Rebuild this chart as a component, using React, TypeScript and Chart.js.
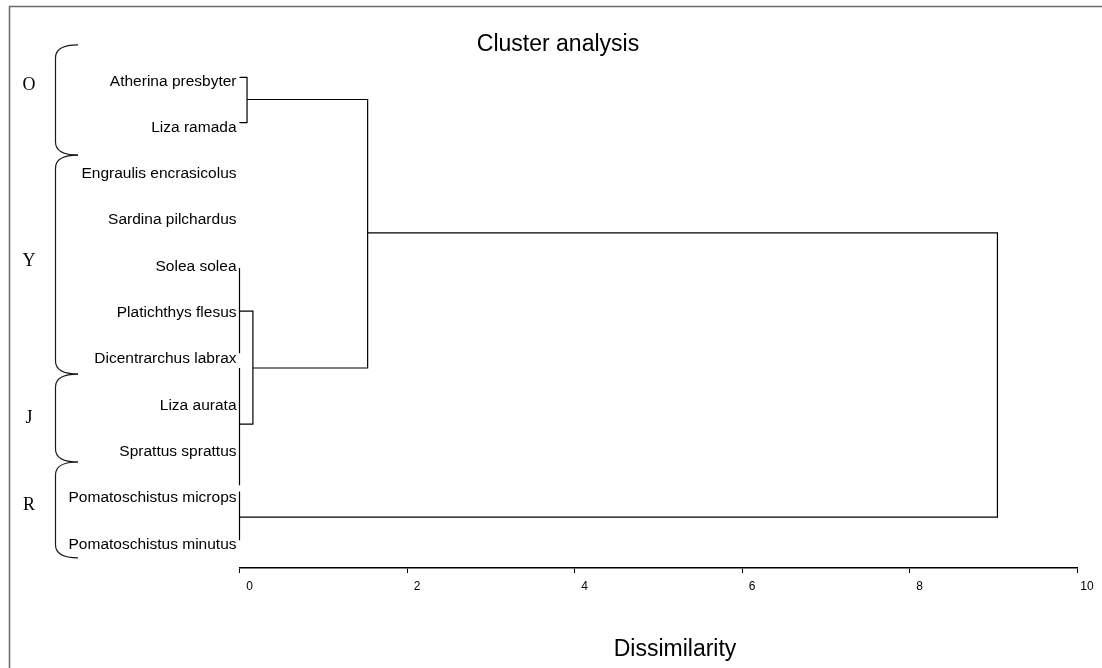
import React, { useEffect, useRef } from "react";
import { Chart, registerables } from "chart.js";

Chart.register(...registerables);

// Leaves of the dendrogram, top to bottom
const leaves = [
  "Atherina presbyter",
  "Liza ramada",
  "Engraulis encrasicolus",
  "Sardina pilchardus",
  "Solea solea",
  "Platichthys flesus",
  "Dicentrarchus labrax",
  "Liza aurata",
  "Sprattus sprattus",
  "Pomatoschistus microps",
  "Pomatoschistus minutus",
];

// Dissimilarity axis ticks
const dissimilarityTicks = [0, 2, 4, 6, 8, 10];

// Dendrogram links (leaf-position units on y, dissimilarity on x)
const linkTop = [0, 4.12, 6.28, 5.05, 0.48, 8.95, 3.36];
const linkBottom = [0.98, 5.96, 8.81, 7.49, 6.28, 10, 9.5];
const linkTopChild = [0, 0, 0, 0, 0.09, 0, 1.53];
const linkBottomChild = [0, 0, 0, 0, 0.16, 0, 0];
const linkHeight = [0.09, 0, 0, 0.16, 1.53, 0, 9.05];

// Group braces on the left
const groupNames = ["O", "Y", "J", "R"];
const groupStart = [-0.7, 1.68, 6.41, 8.31];
const groupEnd = [1.68, 6.41, 8.31, 10.38];
const groupLabelPos = [0.18, 3.97, 7.36, 9.24];

const SANS = '"Liberation Sans", Arial, sans-serif';
const SERIF = '"Liberation Serif", "Times New Roman", serif';

const decorations = {
  id: "decorations",
  afterDraw(chart: any) {
    const ctx = chart.ctx as CanvasRenderingContext2D;
    const ys = chart.scales.y;
    ctx.save();
    // outer frame
    ctx.strokeStyle = "#6b6b6b";
    ctx.lineWidth = 1.5;
    ctx.strokeRect(9.5, 6.5, 1300, 900);

    // titles
    ctx.fillStyle = "#000";
    ctx.font = `23px ${SANS}`;
    ctx.textAlign = "center";
    ctx.textBaseline = "alphabetic";
    ctx.fillText("Cluster analysis", 558, 51);
    ctx.fillText("Dissimilarity", 675, 656);

    // braces
    const spine = 55.5;
    const tip = 78;
    const r = 13;
    ctx.strokeStyle = "#1a1a1a";
    ctx.lineWidth = 1.2;
    for (let i = 0; i < groupNames.length; i++) {
      const y0 = ys.getPixelForValue(groupStart[i]);
      const y1 = ys.getPixelForValue(groupEnd[i]);
      ctx.beginPath();
      ctx.moveTo(tip, y0);
      ctx.quadraticCurveTo(spine, y0, spine, y0 + r);
      ctx.lineTo(spine, y1 - r);
      ctx.quadraticCurveTo(spine, y1, tip, y1);
      ctx.stroke();
      ctx.font = `18px ${SERIF}`;
      ctx.textAlign = "center";
      ctx.textBaseline = "middle";
      ctx.fillText(groupNames[i], 29, ys.getPixelForValue(groupLabelPos[i]));
    }
    ctx.restore();
  },
};

export default function App() {
  const ref = useRef<HTMLCanvasElement | null>(null);

  useEffect(() => {
    if (!ref.current) return;
    const datasets = linkHeight.map((h, i) => ({
      data: [
        { x: linkTopChild[i], y: linkTop[i] },
        { x: h, y: linkTop[i] },
        { x: h, y: linkBottom[i] },
        { x: linkBottomChild[i], y: linkBottom[i] },
      ],
      showLine: true,
      borderColor: "#000",
      borderWidth: 1.2,
      pointRadius: 0,
      pointHoverRadius: 0,
      fill: false,
      tension: 0,
      clip: false as any,
    }));

    const chart = new Chart(ref.current, {
      type: "scatter",
      data: { datasets },
      options: {
        animation: false,
        responsive: false,
        events: [],
        layout: { padding: { top: 31, right: 25, bottom: 0, left: 0 } },
        plugins: {
          legend: { display: false },
          tooltip: { enabled: false },
          title: { display: false },
        },
        scales: {
          x: {
            type: "linear",
            position: "bottom",
            min: 0,
            max: 10,
            afterBuildTicks: (scale: any) => {
              scale.ticks = dissimilarityTicks.map((v) => ({ value: v }));
            },
            afterFit: (scale: any) => {
              scale.height = 100;
            },
            grid: {
              display: true,
              drawOnChartArea: false,
              drawTicks: true,
              tickLength: 5,
              color: "#000",
              lineWidth: 1,
            },
            border: { display: true, color: "#000", width: 1.5 },
            ticks: {
              color: "#000",
              font: { family: SANS, size: 12 },
              padding: 6,
              labelOffset: 10,
              maxRotation: 0,
              autoSkip: false,
              callback: (v: any) => String(v),
            },
          },
          y: {
            type: "linear",
            reverse: true,
            min: -1,
            max: 10.6,
            afterBuildTicks: (scale: any) => {
              scale.ticks = leaves.map((_, i) => ({ value: i }));
            },
            afterFit: (scale: any) => {
              scale.width = 239.5;
            },
            grid: { display: false, drawTicks: false, tickLength: 0 },
            border: { display: false },
            ticks: {
              color: "#000",
              font: { family: SANS, size: 15.5 },
              padding: 3,
              labelOffset: 4,
              autoSkip: false,
              callback: (v: any) => leaves[Math.round(v)] ?? "",
            },
          },
        },
      },
      plugins: [decorations],
    });
    return () => chart.destroy();
  }, []);

  return (
    <div style={{ position: "fixed", left: 0, top: 0, width: 1102, height: 668, background: "#fff" }}>
      <canvas ref={ref} width={1102} height={668} style={{ display: "block" }} />
    </div>
  );
}
